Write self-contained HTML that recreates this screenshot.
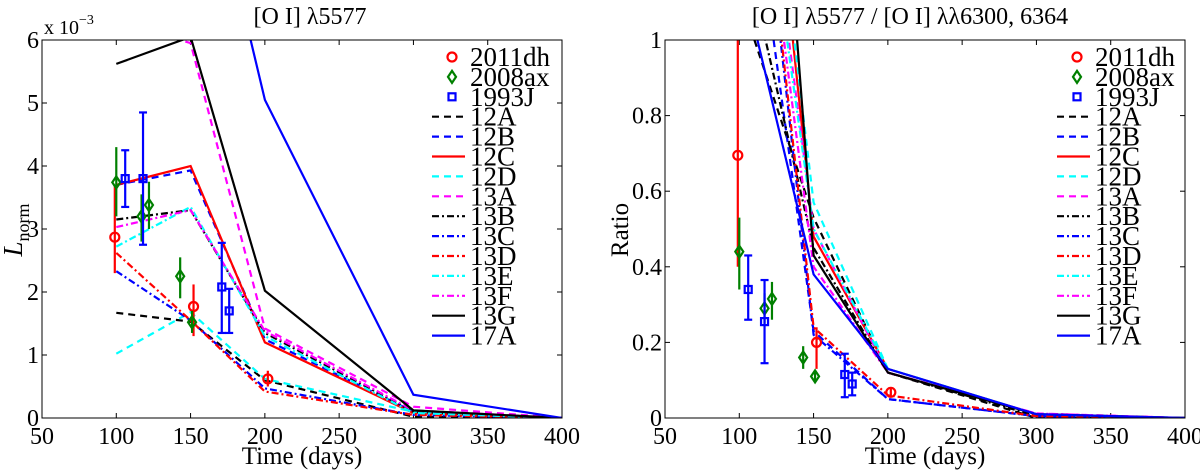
<!DOCTYPE html>
<html><head><meta charset="utf-8">
<style>
html,body{margin:0;padding:0;background:#fff;}
svg{display:block;}
text{font-family:"Liberation Serif","DejaVu Serif",serif;}
</style></head>
<body>
<svg id="c" width="1200" height="473" viewBox="0 0 1200 473" xmlns="http://www.w3.org/2000/svg"></svg>
<script>
// ---- data ----
const modelTimes = [100, 150, 200, 300, 400];
const modelNames = ["12A","12B","12C","12D","13A","13B","13C","13D","13E","13F","13G","17A"];
const modelColors = ["#000","#0000ff","#ff0000","#00ffff","#ff00ff","#000","#0000ff","#ff0000","#00ffff","#ff00ff","#000","#0000ff"];
const modelDash = ["dash","dash","solid","dash","dash","dashdot","dashdot","dashdot","dashdot","dashdot","solid","solid"];
// left: L_norm (x1e-3)
const lum12A = [1.67, 1.53, 0.60, 0.02, 0];
const lum12B = [3.70, 3.93, 1.25, 0.10, 0];
const lum12C = [3.70, 4.00, 1.20, 0.08, 0];
const lum12D = [1.02, 1.68, 0.62, 0.10, 0];
const lum13A = [6.30, 5.95, 1.42, 0.18, 0];
const lum13B = [3.15, 3.30, 1.35, 0.10, 0];
const lum13C = [2.33, 1.55, 0.47, 0.05, 0];
const lum13D = [2.62, 1.55, 0.42, 0.05, 0];
const lum13E = [2.72, 3.35, 1.30, 0.08, 0];
const lum13F = [3.03, 3.30, 1.38, 0.12, 0];
const lum13G = [5.62, 6.05, 2.02, 0.12, 0];
const lum17A = [15.0, 10.0, 5.05, 0.37, 0];
// right: ratio
const rat12A = [1.12, 0.53, 0.12, 0.00, 0];
const rat12B = [1.66, 0.23, 0.05, 0.005, 0];
const rat12C = [2.34, 0.48, 0.13, 0.01, 0];
const rat12D = [2.22, 0.57, 0.13, 0.01, 0];
const rat13A = [2.00, 0.50, 0.12, 0.012, 0];
const rat13B = [1.30, 0.45, 0.12, 0.005, 0];
const rat13C = [1.97, 0.22, 0.05, 0.005, 0];
const rat13D = [2.00, 0.24, 0.06, 0.005, 0];
const rat13E = [1.90, 0.50, 0.13, 0.01, 0];
const rat13F = [1.90, 0.40, 0.12, 0.012, 0];
const rat13G = [3.00, 0.43, 0.12, 0.01, 0];
const rat17A = [1.20, 0.38, 0.13, 0.01, 0];
// observations
const obsDhT = [99, 152, 202];
const obsDhL = [2.87, 1.77, 0.62];
const obsDhLlo = [2.30, 1.30, 0.50];
const obsDhLhi = [3.70, 2.12, 0.75];
const obsDhR = [0.695, 0.20, 0.068];
const obsDhRlo = [0.40, 0.13, 0.055];
const obsDhRhi = [1.00, 0.24, 0.08];
const obsAxT = [100, 117, 122, 143, 151];
const obsAxL = [3.74, 3.20, 3.38, 2.25, 1.52];
const obsAxLlo = [3.20, 2.80, 3.00, 1.90, 1.35];
const obsAxLhi = [4.30, 3.55, 3.75, 2.55, 1.70];
const obsAxR = [0.44, 0.29, 0.315, 0.16, 0.11];
const obsAxRlo = [0.34, 0.25, 0.26, 0.13, 0.095];
const obsAxRhi = [0.53, 0.33, 0.36, 0.19, 0.125];
const obsJT = [106, 118, 171, 176];
const obsJL = [3.80, 3.80, 2.08, 1.70];
const obsJLlo = [3.35, 2.75, 1.35, 1.35];
const obsJLhi = [4.25, 4.85, 2.78, 2.05];
const obsJT2 = [106, 117, 171, 176];
const obsJR = [0.34, 0.255, 0.115, 0.09];
const obsJRlo = [0.26, 0.145, 0.055, 0.06];
const obsJRhi = [0.43, 0.365, 0.17, 0.12];
const xTicks = [50,100,150,200,250,300,350,400];
const yTicksL = [0,1,2,3,4,5,6];
const yTicksR = [0,0.2,0.4,0.6,0.8,1];

const NS="http://www.w3.org/2000/svg";
const svg=document.getElementById('c');
function mk(tag,attrs,parent){const e=document.createElementNS(NS,tag);for(const k in attrs)e.setAttribute(k,attrs[k]);(parent||svg).appendChild(e);return e;}

function panel(cfg){
  const {x0,x1,y0,y1,ymax,id}=cfg;
  const sx=t=>x0+(t-50)/350*(x1-x0);
  const sy=v=>y1-v/ymax*(y1-y0);
  const g=mk('g',{});
  
  
  const cp=mk('clipPath',{id:id+'clip'},g);
  mk('rect',{x:x0,y:y0,width:x1-x0,height:y1-y0},cp);
  xTicks.forEach(t=>{
    const X=sx(t);
    mk('line',{x1:X,y1:y1,x2:X,y2:y1-5,stroke:'#000','stroke-width':1},g);
    mk('line',{x1:X,y1:y0,x2:X,y2:y0+5,stroke:'#000','stroke-width':1},g);
  });
  cfg.yTicks.forEach((v,i)=>{
    const Y=sy(v);
    mk('line',{x1:x0,y1:Y,x2:x0+5,y2:Y,stroke:'#000'},g);
    mk('line',{x1:x1,y1:Y,x2:x1-5,y2:Y,stroke:'#000'},g);
  });
  const pg=mk('g',{'clip-path':'url(#'+id+'clip)'},g);
  cfg.series.forEach((arr,i)=>{
    const d=arr.map((v,j)=>(j?'L':'M')+sx(modelTimes[j]).toFixed(1)+' '+sy(v).toFixed(1)).join(' ');
    const da=modelDash[i]=='dash'?'7 5':modelDash[i]=='dashdot'?'7 3 2 3':'';
    const p=mk('path',{d:d,fill:'none',stroke:modelColors[i],'stroke-width':2.2,'stroke-dasharray':da},pg);
    
    
  });
  function obs(T,V,lo,hi,color,shape,nm){
    T.forEach((t,j)=>{
      const X=sx(t);
      const e=mk('g',{},pg);
      
      
      mk('line',{x1:X,y1:sy(lo[j]),x2:X,y2:sy(hi[j]),stroke:color,'stroke-width':2.2},e);
      if(shape=='sq'){
        mk('line',{x1:X-4,y1:sy(lo[j]),x2:X+4,y2:sy(lo[j]),stroke:color,'stroke-width':2.2},e);
        mk('line',{x1:X-4,y1:sy(hi[j]),x2:X+4,y2:sy(hi[j]),stroke:color,'stroke-width':2.2},e);
      }
      marker(e,X,sy(V[j]),color,shape);
    });
  }
  obs(obsDhT,cfg.dh[0],cfg.dh[1],cfg.dh[2],'#ff0000','o','sn2011dh');
  obs(obsAxT,cfg.ax[0],cfg.ax[1],cfg.ax[2],'#008000','d','sn2008ax');
  obs(cfg.jT,cfg.j[0],cfg.j[1],cfg.j[2],'#0000ff','sq','sn1993j');
  const fr=mk('rect',{x:x0,y:y0,width:x1-x0,height:y1-y0,fill:'none',stroke:'#000','stroke-width':1},g);
  
  
  const lg=mk('g',{},g);
  
  
  const obsC=['#ff0000','#008000','#0000ff'],obsS=['o','d','sq'];
  const lx=cfg.lx,ly=57,dy=19.9;
  for(let i=0;i<15;i++){
    const Y=ly+i*dy;
    const it=mk('g',{},lg);
    
    
    if(i<3){marker(it,lx+20,Y,obsC[i],obsS[i]);}
    else{const k=i-3;const da=modelDash[k]=='dash'?'7 5':modelDash[k]=='dashdot'?'7 3 2 3':'';
      mk('line',{x1:lx,y1:Y,x2:lx+33,y2:Y,stroke:modelColors[k],'stroke-width':2.2,'stroke-dasharray':da},it);}
  }
}
function marker(p,X,Y,c,s){
  if(s=='o')mk('circle',{cx:X,cy:Y,r:4.5,fill:'none',stroke:c,'stroke-width':2.2},p);
  else if(s=='d')mk('path',{d:`M${X} ${Y-6}L${X+4} ${Y}L${X} ${Y+6}L${X-4} ${Y}Z`,fill:'none',stroke:c,'stroke-width':2.2},p);
  else mk('rect',{x:X-3.5,y:Y-3.5,width:7,height:7,fill:'none',stroke:c,'stroke-width':2.2},p);
}
panel({id:'left',x0:42,x1:562,y0:40,y1:418,ymax:6,yTicks:yTicksL,
  series:[lum12A,lum12B,lum12C,lum12D,lum13A,lum13B,lum13C,lum13D,lum13E,lum13F,lum13G,lum17A],
  dh:[obsDhL,obsDhLlo,obsDhLhi],ax:[obsAxL,obsAxLlo,obsAxLhi],jT:obsJT,j:[obsJL,obsJLlo,obsJLhi],lx:432});
panel({id:'right',x0:665,x1:1185,y0:40,y1:418,ymax:1,yTicks:yTicksR,
  series:[rat12A,rat12B,rat12C,rat12D,rat13A,rat13B,rat13C,rat13D,rat13E,rat13F,rat13G,rat17A],
  dh:[obsDhR,obsDhRlo,obsDhRhi],ax:[obsAxR,obsAxRlo,obsAxRhi],jT:obsJT2,j:[obsJR,obsJRlo,obsJRhi],lx:1057});
</script>
<div style="position:absolute;left:0;top:0;width:1200px;height:473px;pointer-events:none;">
<svg width="1200" height="473" style="position:absolute;left:0;top:0;" font-family="Liberation Serif, serif">
<text x="310" y="24" font-size="24" text-anchor="middle">[O I] λ5577</text>
<text x="910" y="24" font-size="24" text-anchor="middle">[O I] λ5577 / [O I] λλ6300, 6364</text>
<text x="44" y="34" font-size="20">x 10<tspan dy="-10" font-size="14">−3</tspan></text>
<text x="302" y="464" font-size="25" text-anchor="middle">Time (days)</text>
<text x="925" y="464" font-size="25" text-anchor="middle">Time (days)</text>
<text transform="translate(22,230) rotate(-90)" font-size="27" text-anchor="middle"><tspan font-style="italic">L</tspan><tspan font-size="18" dy="7">norm</tspan></text>
<text transform="translate(628,230) rotate(-90)" font-size="25" text-anchor="middle">Ratio</text>

<text x="42" y="444" font-size="24" text-anchor="middle">50</text>
<text x="116.3" y="444" font-size="24" text-anchor="middle">100</text>
<text x="190.6" y="444" font-size="24" text-anchor="middle">150</text>
<text x="264.9" y="444" font-size="24" text-anchor="middle">200</text>
<text x="339.1" y="444" font-size="24" text-anchor="middle">250</text>
<text x="413.4" y="444" font-size="24" text-anchor="middle">300</text>
<text x="487.7" y="444" font-size="24" text-anchor="middle">350</text>
<text x="562" y="444" font-size="24" text-anchor="middle">400</text>
<text x="665" y="444" font-size="24" text-anchor="middle">50</text>
<text x="739.3" y="444" font-size="24" text-anchor="middle">100</text>
<text x="813.6" y="444" font-size="24" text-anchor="middle">150</text>
<text x="887.9" y="444" font-size="24" text-anchor="middle">200</text>
<text x="962.1" y="444" font-size="24" text-anchor="middle">250</text>
<text x="1036.4" y="444" font-size="24" text-anchor="middle">300</text>
<text x="1110.7" y="444" font-size="24" text-anchor="middle">350</text>
<text x="1185" y="444" font-size="24" text-anchor="middle">400</text>

<text x="39" y="426" font-size="24" text-anchor="end">0</text>
<text x="39" y="363" font-size="24" text-anchor="end">1</text>
<text x="39" y="300" font-size="24" text-anchor="end">2</text>
<text x="39" y="237" font-size="24" text-anchor="end">3</text>
<text x="39" y="174" font-size="24" text-anchor="end">4</text>
<text x="39" y="111" font-size="24" text-anchor="end">5</text>
<text x="39" y="48" font-size="24" text-anchor="end">6</text>
<text x="662" y="426" font-size="24" text-anchor="end">0</text>
<text x="662" y="350.4" font-size="24" text-anchor="end">0.2</text>
<text x="662" y="274.8" font-size="24" text-anchor="end">0.4</text>
<text x="662" y="199.2" font-size="24" text-anchor="end">0.6</text>
<text x="662" y="123.6" font-size="24" text-anchor="end">0.8</text>
<text x="662" y="48" font-size="24" text-anchor="end">1</text>

<text x="470" y="66" font-size="27">2011dh</text>
<text x="470" y="85.9" font-size="27">2008ax</text>
<text x="470" y="105.8" font-size="27">1993J</text>
<text x="470" y="125.7" font-size="27">12A</text>
<text x="470" y="145.6" font-size="27">12B</text>
<text x="470" y="165.5" font-size="27">12C</text>
<text x="470" y="185.4" font-size="27">12D</text>
<text x="470" y="205.3" font-size="27">13A</text>
<text x="470" y="225.2" font-size="27">13B</text>
<text x="470" y="245.1" font-size="27">13C</text>
<text x="470" y="265" font-size="27">13D</text>
<text x="470" y="284.9" font-size="27">13E</text>
<text x="470" y="304.8" font-size="27">13F</text>
<text x="470" y="324.7" font-size="27">13G</text>
<text x="470" y="344.6" font-size="27">17A</text>
<text x="1095" y="66" font-size="27">2011dh</text>
<text x="1095" y="85.9" font-size="27">2008ax</text>
<text x="1095" y="105.8" font-size="27">1993J</text>
<text x="1095" y="125.7" font-size="27">12A</text>
<text x="1095" y="145.6" font-size="27">12B</text>
<text x="1095" y="165.5" font-size="27">12C</text>
<text x="1095" y="185.4" font-size="27">12D</text>
<text x="1095" y="205.3" font-size="27">13A</text>
<text x="1095" y="225.2" font-size="27">13B</text>
<text x="1095" y="245.1" font-size="27">13C</text>
<text x="1095" y="265" font-size="27">13D</text>
<text x="1095" y="284.9" font-size="27">13E</text>
<text x="1095" y="304.8" font-size="27">13F</text>
<text x="1095" y="324.7" font-size="27">13G</text>
<text x="1095" y="344.6" font-size="27">17A</text>
</svg></div>
</body></html>
